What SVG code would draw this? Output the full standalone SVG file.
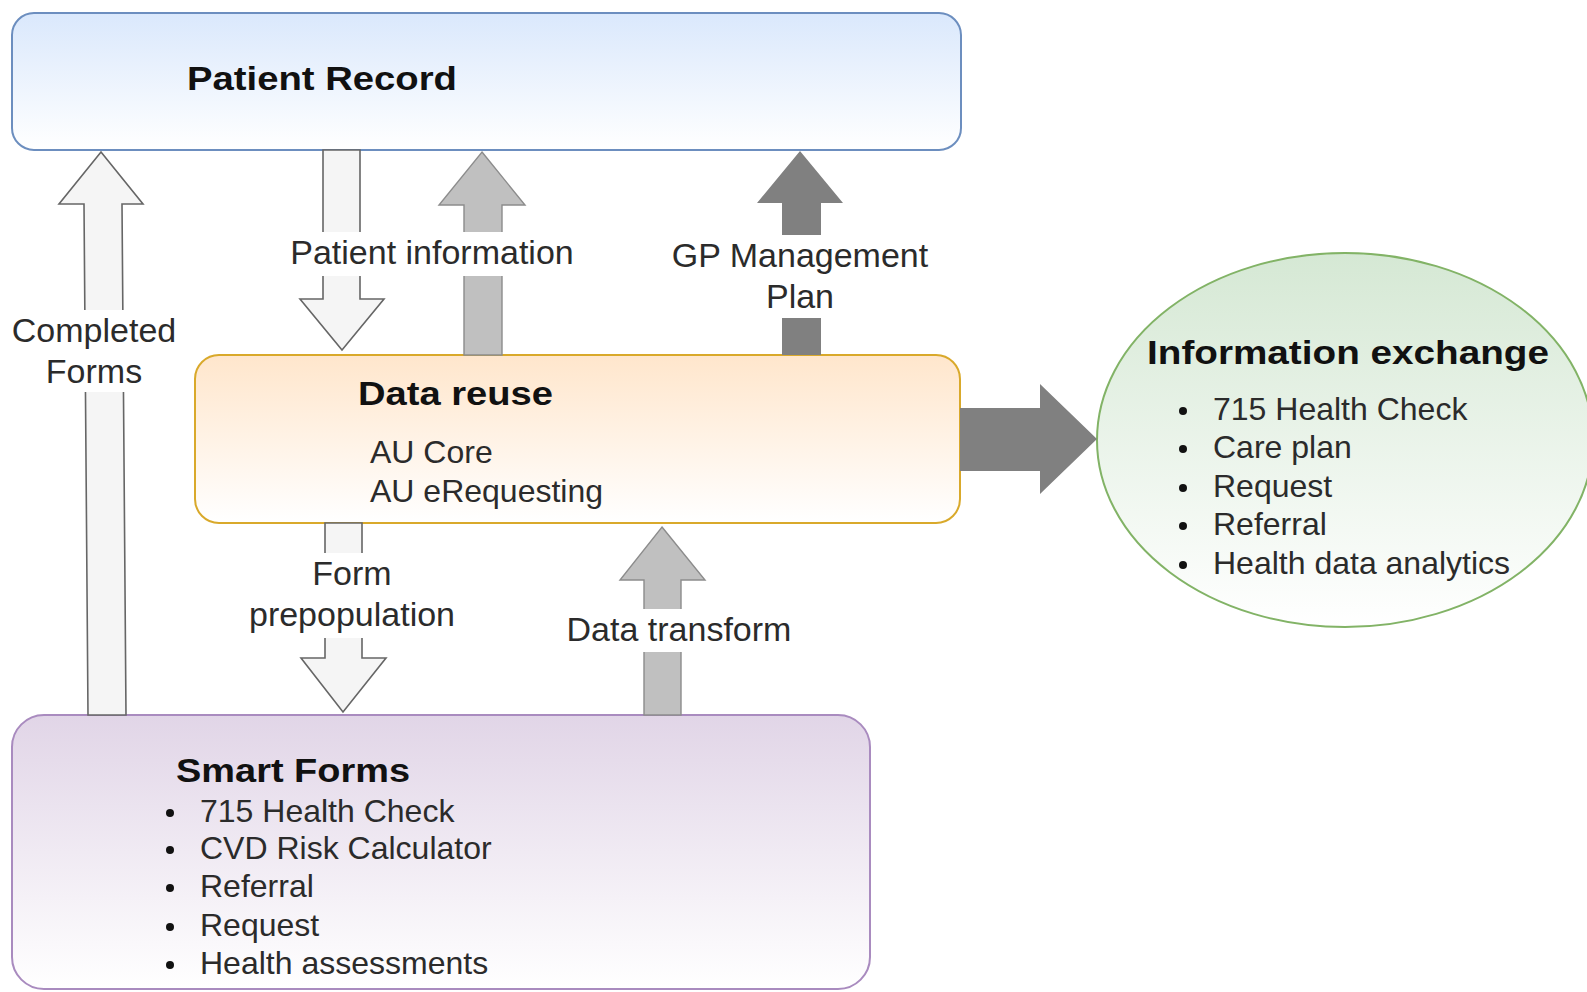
<svg xmlns="http://www.w3.org/2000/svg" width="1587" height="992" viewBox="0 0 1587 992">
  <style>
    text { font-family: "Liberation Sans", Arial, Helvetica, sans-serif; }
    .title { font-size: 34px; font-weight: bold; fill: #111111; }
    .item { font-size: 32px; fill: #2b2b2b; }
    .label { font-size: 34px; fill: #2b2b2b; text-anchor: middle; }
    .light { fill: #f5f5f5; stroke: #666666; stroke-width: 1.6; stroke-linejoin: miter; }
    .mid { fill: #c0c0c0; stroke: #8c8c8c; stroke-width: 1.4; stroke-linejoin: miter; }
    .dark { fill: #808080; stroke: none; }
    .gap { fill: #ffffff; }
    .dot { fill: #111111; }
  </style>
  <defs>
    <linearGradient id="gBlue" x1="0" y1="0" x2="0" y2="1">
      <stop offset="0" stop-color="#dae8fc"/>
      <stop offset="1" stop-color="#ffffff"/>
    </linearGradient>
    <linearGradient id="gOrange" x1="0" y1="0" x2="0" y2="1">
      <stop offset="0" stop-color="#ffe6cc"/>
      <stop offset="1" stop-color="#ffffff"/>
    </linearGradient>
    <linearGradient id="gPurple" x1="0" y1="0" x2="0" y2="1">
      <stop offset="0" stop-color="#e1d5e7"/>
      <stop offset="1" stop-color="#ffffff"/>
    </linearGradient>
    <linearGradient id="gGreen" x1="0" y1="0" x2="0" y2="1">
      <stop offset="0" stop-color="#d5e8d4"/>
      <stop offset="1" stop-color="#ffffff"/>
    </linearGradient>
  </defs>

  <rect width="1587" height="992" fill="#ffffff"/>

  <!-- Patient Record -->
  <g id="patient-record">
    <rect x="12" y="13" width="949" height="137" rx="22" ry="22" fill="url(#gBlue)" stroke="#6c8ebf" stroke-width="2"/>
    <text class="title" x="187" y="90" textLength="270" lengthAdjust="spacingAndGlyphs">Patient Record</text>
  </g>

  <!-- Data reuse -->
  <g id="data-reuse">
    <rect x="195" y="355" width="765" height="168" rx="24" ry="24" fill="url(#gOrange)" stroke="#d9a92b" stroke-width="2"/>
    <text class="title" x="358" y="405" textLength="195" lengthAdjust="spacingAndGlyphs">Data reuse</text>
    <text class="item" x="370" y="463">AU Core</text>
    <text class="item" x="370" y="502">AU eRequesting</text>
  </g>

  <!-- Smart Forms -->
  <g id="smart-forms">
    <rect x="12" y="715" width="858" height="274" rx="32" ry="32" fill="url(#gPurple)" stroke="#a98bbf" stroke-width="2"/>
    <text class="title" x="176" y="782" textLength="234" lengthAdjust="spacingAndGlyphs">Smart Forms</text>
    <circle class="dot" cx="170" cy="813" r="4"/>
    <text class="item" x="200" y="822">715 Health Check</text>
    <circle class="dot" cx="170" cy="850" r="4"/>
    <text class="item" x="200" y="859">CVD Risk Calculator</text>
    <circle class="dot" cx="170" cy="888" r="4"/>
    <text class="item" x="200" y="897">Referral</text>
    <circle class="dot" cx="170" cy="927" r="4"/>
    <text class="item" x="200" y="936">Request</text>
    <circle class="dot" cx="170" cy="965" r="4"/>
    <text class="item" x="200" y="974">Health assessments</text>
  </g>

  <!-- Information exchange -->
  <g id="information-exchange">
    <ellipse cx="1345" cy="440" rx="248" ry="187" fill="url(#gGreen)" stroke="#82b366" stroke-width="2"/>
    <text class="title" x="1147" y="364" textLength="402" lengthAdjust="spacingAndGlyphs">Information exchange</text>
    <circle class="dot" cx="1183" cy="411" r="4"/>
    <text class="item" x="1213" y="420">715 Health Check</text>
    <circle class="dot" cx="1183" cy="449" r="4"/>
    <text class="item" x="1213" y="458">Care plan</text>
    <circle class="dot" cx="1183" cy="488" r="4"/>
    <text class="item" x="1213" y="497">Request</text>
    <circle class="dot" cx="1183" cy="526" r="4"/>
    <text class="item" x="1213" y="535">Referral</text>
    <circle class="dot" cx="1183" cy="565" r="4"/>
    <text class="item" x="1213" y="574">Health data analytics</text>
  </g>

  <!-- Block arrows between the components, with their labels -->
  <g id="connectors">
    <!-- Smart Forms -> Patient Record: completed forms -->
    <path class="light" d="M101,152 L143,204 L122,204 L126,715 L88,715 L84,204 L59,204 Z"/>
    <rect class="gap" x="10" y="310" width="168" height="82"/>
    <text class="label" x="94" y="342">Completed</text>
    <text class="label" x="94" y="383">Forms</text>

    <!-- Patient Record -> Data reuse: patient information -->
    <path class="light" d="M323,150 L360,150 L360,299 L384,299 L342,350 L300,299 L323,299 Z"/>
    <!-- Data reuse -> Patient Record -->
    <path class="mid" d="M482,152 L525,205 L502,205 L502,355 L464,355 L464,205 L439,205 Z"/>
    <rect class="gap" x="288" y="232" width="290" height="44"/>
    <text class="label" x="432" y="264">Patient information</text>

    <!-- Data reuse -> Patient Record: GP Management Plan -->
    <path class="dark" d="M800,151 L843,203 L821,203 L821,355 L782,355 L782,203 L757,203 Z"/>
    <rect class="gap" x="668" y="235" width="264" height="83"/>
    <text class="label" x="800" y="267">GP Management</text>
    <text class="label" x="800" y="308">Plan</text>

    <!-- Data reuse -> Information exchange -->
    <path class="dark" d="M960,408 L1040,408 L1040,384 L1097,439 L1040,494 L1040,471 L960,471 Z"/>

    <!-- Data reuse -> Smart Forms: form prepopulation -->
    <path class="light" d="M325,523 L362,523 L362,658 L386,658 L343,712 L301,658 L325,658 Z"/>
    <rect class="gap" x="248" y="553" width="208" height="85"/>
    <text class="label" x="352" y="585">Form</text>
    <text class="label" x="352" y="626">prepopulation</text>

    <!-- Smart Forms -> Data reuse: data transform -->
    <path class="mid" d="M662,527 L705,580 L681,580 L681,715 L644,715 L644,580 L620,580 Z"/>
    <rect class="gap" x="564" y="609" width="232" height="43"/>
    <text class="label" x="679" y="641">Data transform</text>
  </g>
</svg>
